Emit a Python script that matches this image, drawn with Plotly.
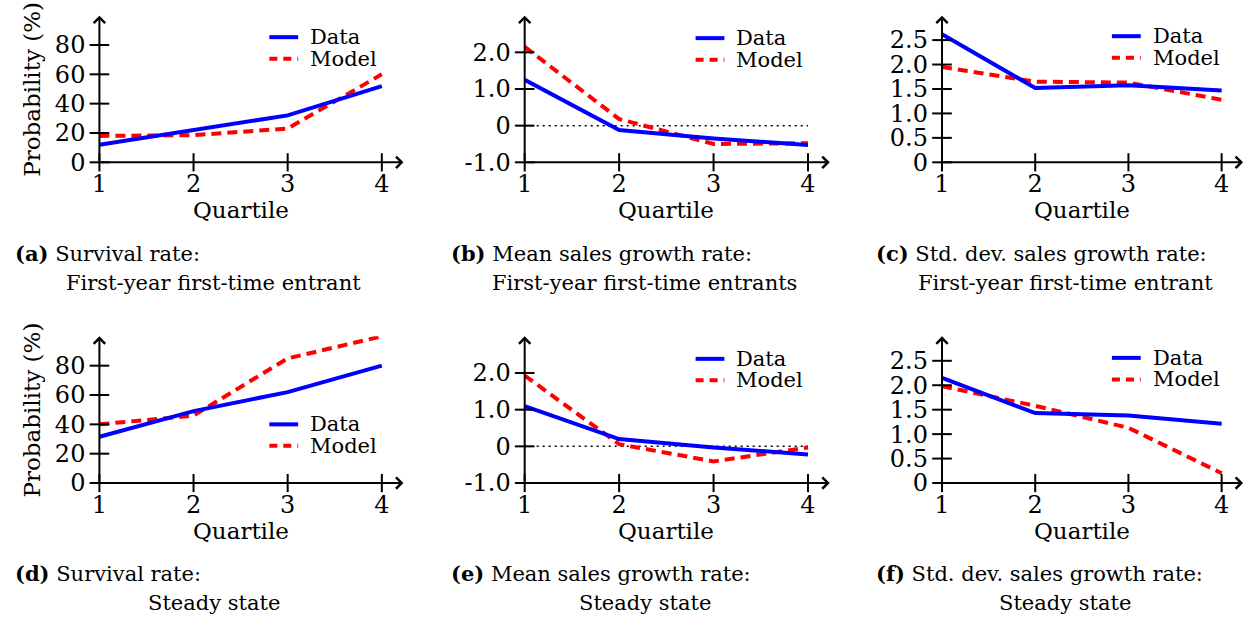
import plotly.graph_objects as go

# ---------------- data ----------------
quartiles = [1, 2, 3, 4]

surv_first_data = [12, 22, 32, 52]
surv_first_model = [18, 18.5, 23, 60]
mean_first_data = [1.25, -0.12, -0.35, -0.53]
mean_first_model = [2.15, 0.18, -0.5, -0.48]
sd_first_data = [2.62, 1.52, 1.575, 1.47]
sd_first_model = [1.95, 1.65, 1.63, 1.28]

surv_ss_data = [31.5, 49, 62, 80]
surv_ss_model = [40, 46, 85, 100]
mean_ss_data = [1.1, 0.2, -0.03, -0.22]
mean_ss_model = [1.93, 0.06, -0.41, -0.03]
sd_ss_data = [2.15, 1.43, 1.38, 1.21]
sd_ss_model = [1.98, 1.58, 1.13, 0.2]

surv_ticks = [0, 20, 40, 60, 80]
surv_ticktext = ["0", "20", "40", "60", "80"]
mean_ticks = [-1, 0, 1, 2]
mean_ticktext = ["-1.0", "0", "1.0", "2.0"]
sd_ticks = [0, 0.5, 1.0, 1.5, 2.0, 2.5]
sd_ticktext = ["0", "0.5", "1.0", "1.5", "2.0", "2.5"]

captions = [
    ("(a)", "Survival rate:", "First-year first-time entrant"),
    ("(b)", "Mean sales growth rate:", "First-year first-time entrants"),
    ("(c)", "Std. dev. sales growth rate:", "First-year first-time entrant"),
    ("(d)", "Survival rate:", "Steady state"),
    ("(e)", "Mean sales growth rate:", "Steady state"),
    ("(f)", "Std. dev. sales growth rate:", "Steady state"),
]

# ---------------- layout geometry (pixels) ----------------
W, H = 1255, 630
FONT = "DejaVu Serif"
BLUE = "#0000ff"
RED = "#ff0000"
TICK_SIZE = 24
TITLE_SIZE = 23
LEG_SIZE = 21
CAP_SIZE = 21

col_px = [(92, 398), (520, 827), (940, 1243)]
row_px = [(16, 166), (344, 494)]
XMAX = 4.23

panels = [
    dict(data=surv_first_data, model=surv_first_model, yr=[0, 100], tv=surv_ticks, tt=surv_ticktext,
         ytitle=True, zero=False),
    dict(data=mean_first_data, model=mean_first_model, yr=[-1, 3], tv=mean_ticks, tt=mean_ticktext,
         ytitle=False, zero=True),
    dict(data=sd_first_data, model=sd_first_model, yr=[0, 3], tv=sd_ticks, tt=sd_ticktext,
         ytitle=False, zero=False),
    dict(data=surv_ss_data, model=surv_ss_model, yr=[0, 100], tv=surv_ticks, tt=surv_ticktext,
         ytitle=True, zero=False),
    dict(data=mean_ss_data, model=mean_ss_model, yr=[-1, 3], tv=mean_ticks, tt=mean_ticktext,
         ytitle=False, zero=True),
    dict(data=sd_ss_data, model=sd_ss_model, yr=[0, 3], tv=sd_ticks, tt=sd_ticktext,
         ytitle=False, zero=False),
]

legend_px = [
    (263, 38, 60), (692, 39, 61), (1111, 37, 59),
    (263, 434, 456), (692, 367, 389), (1111, 366, 388),
]
caption_px = [
    (5, 259, 207, 289), (444, 259, 641, 289), (872, 259, 1064, 289),
    (5, 587, 207, 617), (444, 587, 641, 617), (872, 587, 1064, 617),
]


def px_x(x):
    return x / W


def px_y(y):
    return 1 - y / H


fig = go.Figure()
annotations = []
shapes = []
layout_axes = {}

for i, p in enumerate(panels):
    r, c = divmod(i, 3)
    n = "" if i == 0 else str(i + 1)
    xa, ya = "x" + n, "y" + n
    x0, x1 = col_px[c]
    ytop, ybot = row_px[r]
    ymin, ymax = p["yr"]

    layout_axes["xaxis" + n] = dict(
        domain=[px_x(x0), px_x(x1)], range=[1, XMAX], anchor=ya,
        tickvals=quartiles, ticktext=[str(q) for q in quartiles],
        showgrid=False, zeroline=False, showline=False, ticks="",
        ticklabelstandoff=5, tickfont=dict(family=FONT, size=TICK_SIZE, color="black"),
    )
    layout_axes["yaxis" + n] = dict(
        domain=[px_y(ybot), px_y(ytop)], range=[ymin, ymax], anchor=xa,
        tickvals=p["tv"], ticktext=p["tt"],
        showgrid=False, zeroline=False, showline=False, ticks="",
        ticklabelstandoff=13, tickfont=dict(family=FONT, size=TICK_SIZE, color="black"),
    )

    if p["zero"]:
        fig.add_trace(go.Scatter(
            x=[quartiles[0], quartiles[-1]], y=[0, 0], xaxis=xa, yaxis=ya, mode="lines",
            line=dict(color="black", width=1.5, dash="2px,4px"), showlegend=False, hoverinfo="skip"))

    fig.add_trace(go.Scatter(
        x=quartiles, y=p["model"], xaxis=xa, yaxis=ya, mode="lines", name="Model",
        line=dict(color=RED, width=4, dash="10px,6px"), showlegend=False))
    fig.add_trace(go.Scatter(
        x=quartiles, y=p["data"], xaxis=xa, yaxis=ya, mode="lines", name="Data",
        line=dict(color=BLUE, width=4), showlegend=False))

    # axis lines with arrows
    annotations.append(dict(
        x=XMAX, y=ymin, ax=1, ay=ymin, xref=xa, yref=ya, axref=xa, ayref=ya,
        text="", showarrow=True, arrowhead=4, arrowsize=1.1, arrowwidth=2, arrowcolor="black", standoff=0))
    annotations.append(dict(
        x=1, y=ymax, ax=1, ay=ymin, xref=xa, yref=ya, axref=xa, ayref=ya,
        text="", showarrow=True, arrowhead=4, arrowsize=1.1, arrowwidth=2, arrowcolor="black", standoff=0))

    # crossing tick marks
    fig.add_trace(go.Scatter(
        x=quartiles, y=[ymin] * len(quartiles), xaxis=xa, yaxis=ya, mode="markers",
        marker=dict(symbol="line-ns-open", size=13, color="black", line=dict(color="black", width=2)),
        cliponaxis=False, showlegend=False, hoverinfo="skip"))
    fig.add_trace(go.Scatter(
        x=[1] * len(p["tv"]), y=p["tv"], xaxis=xa, yaxis=ya, mode="markers",
        marker=dict(symbol="line-ew-open", size=14, color="black", line=dict(color="black", width=2)),
        cliponaxis=False, showlegend=False, hoverinfo="skip"))

    # x-axis title
    annotations.append(dict(
        x=2.5, y=px_y(ybot + 49), xref=xa, yref="paper", text="Quartile", showarrow=False,
        xanchor="center", yanchor="middle", font=dict(family=FONT, size=TITLE_SIZE, color="black")))
    if p["ytitle"]:
        annotations.append(dict(
            x=px_x(24), y=px_y((ytop + ybot) / 2), xref="paper", yref="paper", text="Probability (%)",
            showarrow=False, textangle=-90, xanchor="center", yanchor="middle",
            font=dict(family=FONT, size=TITLE_SIZE, color="black")))

    # legend (manual)
    lx, ly1, ly2 = legend_px[i]
    shapes.append(dict(type="line", xref="paper", yref="paper", x0=px_x(lx), x1=px_x(lx + 29),
                       y0=px_y(ly1), y1=px_y(ly1), line=dict(color=BLUE, width=4)))
    shapes.append(dict(type="line", xref="paper", yref="paper", x0=px_x(lx), x1=px_x(lx + 29),
                       y0=px_y(ly2), y1=px_y(ly2), line=dict(color=RED, width=4, dash="8px,6px")))
    annotations.append(dict(x=px_x(lx + 39), y=px_y(ly1), xref="paper", yref="paper", text="Data",
                            showarrow=False, xanchor="left", yanchor="middle",
                            font=dict(family=FONT, size=LEG_SIZE, color="black")))
    annotations.append(dict(x=px_x(lx + 39), y=px_y(ly2), xref="paper", yref="paper", text="Model",
                            showarrow=False, xanchor="left", yanchor="middle",
                            font=dict(family=FONT, size=LEG_SIZE, color="black")))

    # caption
    lab, l1, l2 = captions[i]
    cx1, cy1, cx2, cy2 = caption_px[i]
    annotations.append(dict(x=px_x(cx1), y=px_y(cy1), xref="paper", yref="paper",
                            text="<b>" + lab + "</b> " + l1, showarrow=False,
                            xanchor="left", yanchor="middle",
                            font=dict(family=FONT, size=CAP_SIZE, color="black")))
    annotations.append(dict(x=px_x(cx2), y=px_y(cy2), xref="paper", yref="paper",
                            text=l2, showarrow=False, xanchor="center", yanchor="middle",
                            font=dict(family=FONT, size=CAP_SIZE, color="black")))

fig.update_layout(
    width=W, height=H, margin=dict(l=0, r=0, t=0, b=0),
    paper_bgcolor="white", plot_bgcolor="white",
    showlegend=False, annotations=annotations, shapes=shapes,
    font=dict(family=FONT, color="black"),
    **layout_axes,
)

fig.write_html("out.html")
